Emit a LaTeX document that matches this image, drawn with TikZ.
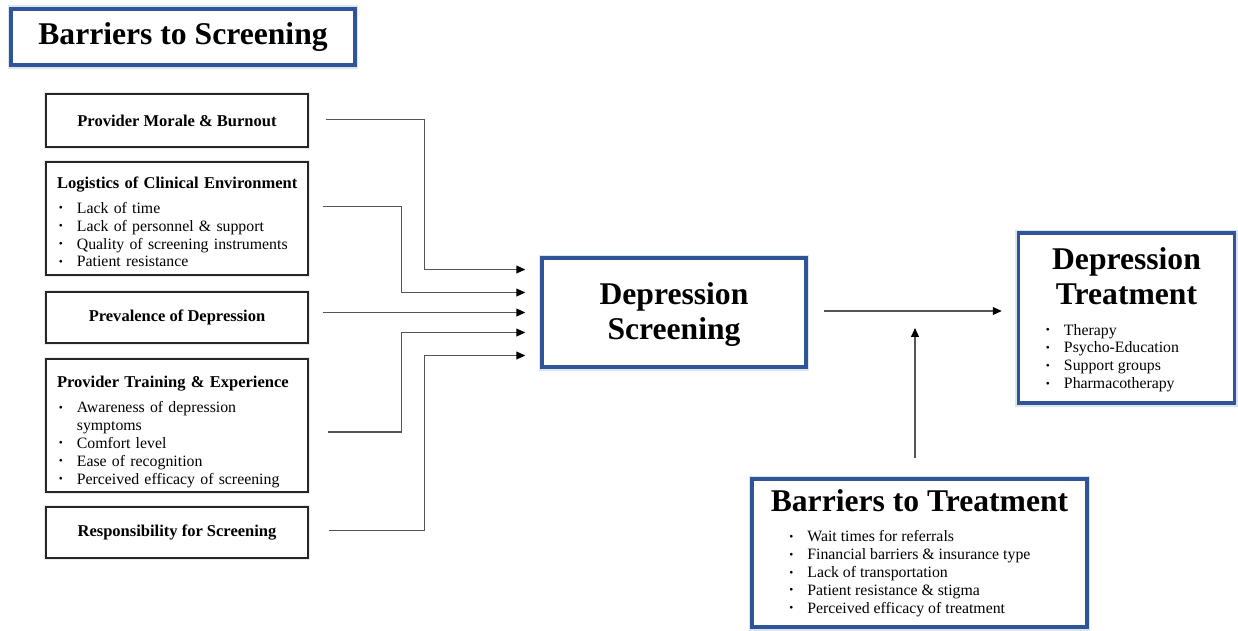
\documentclass[tikz,border=0pt]{standalone}
\usepackage{fontspec}
\setmainfont{Liberation Serif}
\usepackage{tikz}
\usetikzlibrary{arrows.meta,positioning,calc}
\definecolor{boxblue}{HTML}{2F5597}
\definecolor{glowblue}{HTML}{DCE4F0}
\definecolor{linegray}{HTML}{555555}
\newcommand{\bul}{\makebox[11.3pt][l]{\hspace{1pt}\raisebox{.9pt}{\fontsize{6.5}{6.5}\selectfont\textbullet}}}
\newcommand{\bigfont}{\fontsize{18}{19.5}\selectfont\bfseries}
\newcommand{\smallbold}{\fontsize{9.4}{10.2}\selectfont\bfseries}
\newcommand{\listfont}{\fontsize{9}{10.2}\selectfont\mdseries}
\tikzset{
  titlebox/.style={draw=boxblue,line width=2pt,fill=white,preaction={draw=glowblue,line width=4pt},align=center,font=\bigfont,inner sep=0pt},
  factor/.style={draw=black!85,line width=1pt,fill=white,minimum width=5.24cm,preaction={draw=black!8,line width=2.5pt},inner sep=0pt},
  flow/.style={-{Triangle[length=5pt,width=4.4pt,color=black]},draw=linegray,line width=.6pt},
}

\begin{document}
\begin{tikzpicture}[x=0.02cm,y=-0.02cm]
\useasboundingbox (0,0) rectangle (1238,630);
% headings and outcome boxes
\node[titlebox,minimum width=6.88cm,minimum height=1.12cm] (scr) at (183,37) {Barriers to Screening};
\node[titlebox,minimum width=5.28cm,minimum height=2.18cm,font=\fontsize{18}{19.8}\selectfont\bfseries] (ds) at (674,312.5) {\rule{0pt}{15pt}Depression\\Screening};
\node[titlebox,minimum width=4.32cm,minimum height=3.4cm] (dt) at (1126.5,318) {\rule{0pt}{16pt}Depression\\Treatment\\[-2pt]\listfont\begin{tabular}[t]{@{}l@{}}\bul Therapy\\ \bul Psycho-Education\\ \bul Support groups\\ \bul Pharmacotherapy\end{tabular}\hspace*{17pt}};
\node[titlebox,minimum width=6.7cm,minimum height=2.96cm] (bt) at (919.5,553) {\rule{0pt}{14pt}Barriers to Treatment\\[-2.4pt]\listfont\begin{tabular}[t]{@{}l@{}}\bul Wait times for referrals\\ \bul Financial barriers \& insurance type\\ \bul Lack of transportation\\ \bul Patient resistance \& stigma\\ \bul Perceived efficacy of treatment\end{tabular}\hspace*{12pt}};
% screening barriers
\node[factor,minimum height=1.06cm,font=\smallbold] (morale) at (177,120.5) {Provider Morale \& Burnout};
\node[factor,minimum height=2.26cm,text width=4.8cm,align=left,font=\listfont] (logist) at (177,218.5) {\rule{0pt}{10.4pt}\mbox{\smallbold Logistics of Clinical Environment}\\[4pt]
  \bul Lack of time\\ \bul Lack of personnel \& support\\ \bul Quality of screening instruments\\ \bul Patient resistance};
\node[factor,minimum height=1.02cm,font=\smallbold] (prev) at (177,317.5) {Prevalence of Depression};
\node[factor,minimum height=2.66cm,text width=4.8cm,align=left,font=\listfont] (train) at (177,425.5) {\rule{0pt}{14pt}\mbox{\smallbold Provider Training \& Experience}\\[4pt]
  \bul Awareness of depression\\ \hspace*{11.3pt}symptoms\\ \bul Comfort level\\ \bul Ease of recognition\\ \bul Perceived efficacy of screening};
\node[factor,minimum height=1.02cm,font=\smallbold] (resp) at (177,532.5) {Responsibility for Screening};
% connectors
\draw[flow] ($(morale.east)+(17,-1)$) -| ($(ds.west)+(-116,-43)$) -- ($(ds.west)+(-15,-43)$);
\draw[flow] ($(logist.east)+(14,-12)$) -| ($(ds.west)+(-139,-20)$) -- ($(ds.west)+(-15,-20)$);
\draw[flow] ($(prev.east |- ds.west)+(14,0)$) -- ($(ds.west)+(-15,0)$);
\draw[flow] ($(train.east)+(19,6.5)$) -| ($(ds.west)+(-139,20)$) -- ($(ds.west)+(-15,20)$);
\draw[flow] ($(resp.east)+(20,-2)$) -| ($(ds.west)+(-116,43)$) -- ($(ds.west)+(-15,43)$);
\draw[flow] ($(ds.east)+(16,-1.5)$) coordinate (split) -- ($(dt.west |- split)+(-15,0)$);
\draw[flow] ($(bt.north)+(-4.5,-19)$) -- ($(split -| bt.north)+(-4.5,17)$);
\end{tikzpicture}
\end{document}
